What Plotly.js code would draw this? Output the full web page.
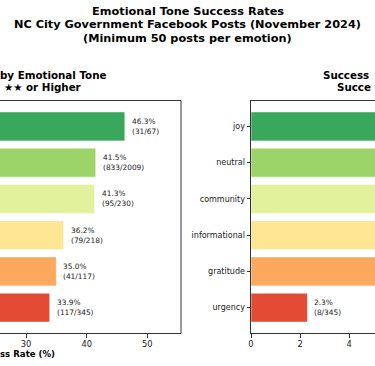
<!DOCTYPE html>
<html>
<head>
<meta charset="utf-8">
<script src="https://cdn.plot.ly/plotly-3.0.1.min.js"></script>
<style>html,body{margin:0;padding:0;background:#fff;}#chart{width:375px;height:366px;}</style>
</head>
<body>
<div id="chart"></div>
<script>
// ---- data ----
const emotions = ['joy', 'neutral', 'community', 'informational', 'gratitude', 'urgency'];
const totalPosts = [67, 2009, 230, 218, 117, 345];
const success2Count = [31, 833, 95, 79, 41, 117];
const success2Rate = [46.3, 41.5, 41.3, 36.2, 35.0, 33.9];
const success4Count = [8, 160, 17, 14, 7, 8];
const success4Rate = [11.9, 8.0, 7.4, 6.4, 6.0, 2.3];
const barColors = ['#3aa85c', '#9dd46a', '#e2f29c', '#fee694', '#fca85e', '#e44b34'];
const mainTitle = ['Emotional Tone Success Rates', 'NC City Government Facebook Posts (November 2024)', '(Minimum 50 posts per emotion)'];
// visible parts of the (cropped) subplot titles and axis title
const leftTitle = ['by Emotional Tone', '★★ or Higher'];
const rightTitle = ['Success', 'Succe'];
const xTitle = 'ss Rate (%)';

const W = 375, H = 366;
const px = v => v / W;
const py = v => 1 - v / H;
const FONT = 'DejaVu Sans';
const dark = '#333333';

const traces = [
  {type: 'bar', orientation: 'h', y: emotions, x: success2Rate, xaxis: 'x', yaxis: 'y',
   marker: {color: barColors, line: {color: 'rgba(255,255,255,0.55)', width: 1}}, width: 0.8,
   hoverinfo: 'x+y'},
  {type: 'bar', orientation: 'h', y: emotions, x: success4Rate, xaxis: 'x2', yaxis: 'y2',
   marker: {color: barColors, line: {color: 'rgba(255,255,255,0.55)', width: 1}}, width: 0.8,
   hoverinfo: 'x+y'}
];

const annotations = [];
mainTitle.forEach((t, i) => annotations.push({
  xref: 'paper', yref: 'paper', x: 0.5, y: py([11.5, 25, 38.5][i]), xanchor: 'center', yanchor: 'middle',
  text: '<b>' + t + '</b>', showarrow: false, font: {family: FONT, size: 11.3, color: '#000'}
}));
leftTitle.forEach((t, i) => annotations.push({
  xref: 'paper', yref: 'paper', x: px([0, 4][i]), xshift: -2, y: py([75, 86.5][i]), xanchor: 'left', yanchor: 'middle',
  text: '<b>' + t + '</b>', showarrow: false, font: {family: FONT, size: 10.3, color: '#000'}
}));
rightTitle.forEach((t, i) => annotations.push({
  xref: 'paper', yref: 'paper', x: px([323, 337][i]), xshift: -2, y: py([75, 86.5][i]), xanchor: 'left', yanchor: 'middle',
  text: '<b>' + t + '</b>', showarrow: false, font: {family: FONT, size: 10.3, color: '#000'}
}));
annotations.push({
  xref: 'paper', yref: 'paper', x: 0, xshift: -2, y: py(354), xanchor: 'left', yanchor: 'middle',
  text: '<b>' + xTitle + '</b>', showarrow: false, font: {family: FONT, size: 8.6, color: '#000'}
});
emotions.forEach((e, i) => {
  annotations.push({
    xref: 'x', yref: 'y', x: success2Rate[i], y: e, xanchor: 'left', yanchor: 'middle', xshift: 5,
    align: 'left', showarrow: false,
    text: success2Rate[i].toFixed(1) + '%<br>(' + success2Count[i] + '/' + totalPosts[i] + ')',
    font: {family: FONT, size: 7.4, color: '#222'}
  });
  annotations.push({
    xref: 'x2', yref: 'y2', x: success4Rate[i], y: e, xanchor: 'left', yanchor: 'middle', xshift: 5,
    align: 'left', showarrow: false,
    text: success4Rate[i].toFixed(1) + '%<br>(' + success4Count[i] + '/' + totalPosts[i] + ')',
    font: {family: FONT, size: 7.4, color: '#222'}
  });
});

const yDomain = [1 - 333 / H, 1 - 101 / H];
const layout = {
  width: W, height: H,
  margin: {l: 0, r: 0, t: 0, b: 0, pad: 0},
  paper_bgcolor: '#ffffff', plot_bgcolor: '#ffffff',
  showlegend: false,
  font: {family: FONT, size: 8, color: '#222'},
  xaxis: {domain: [0, px(181)], range: [25.7, 55.56], anchor: 'y',
    tickvals: [0, 10, 20, 30, 40, 50], ticks: 'outside', ticklen: 3.5, tickcolor: dark, tickwidth: 1,
    tickfont: {family: FONT, size: 8.3, color: '#222'},
    showgrid: false, zeroline: false, showline: true, mirror: true, linecolor: dark, linewidth: 1},
  yaxis: {domain: yDomain, type: 'category', categoryarray: emotions, range: [5.7, -0.7], anchor: 'x',
    showticklabels: false, ticks: '', showgrid: false, zeroline: false, showline: false},
  xaxis2: {domain: [px(251), 1], range: [0, 5.05], anchor: 'y2',
    tickvals: [0, 2, 4, 6, 8, 10, 12], ticks: 'outside', ticklen: 3.5, tickcolor: dark, tickwidth: 1,
    tickfont: {family: FONT, size: 8.3, color: '#222'},
    showgrid: false, zeroline: false, showline: true, mirror: true, linecolor: dark, linewidth: 1},
  yaxis2: {domain: yDomain, type: 'category', categoryarray: emotions, range: [5.7, -0.7], anchor: 'x2',
    ticks: 'outside', ticklen: 3.5, tickcolor: dark, tickwidth: 1,
    tickfont: {family: FONT, size: 8, color: '#222'},
    showgrid: false, zeroline: false, showline: true, linecolor: dark, linewidth: 1},
  shapes: [
    {type: 'line', xref: 'paper', yref: 'paper', x0: px(181), x1: px(181), y0: yDomain[0], y1: yDomain[1],
     line: {color: dark, width: 1}}
  ],
  annotations: annotations
};

Plotly.newPlot('chart', traces, layout, {displayModeBar: false, staticPlot: true});
</script>
</body>
</html>
